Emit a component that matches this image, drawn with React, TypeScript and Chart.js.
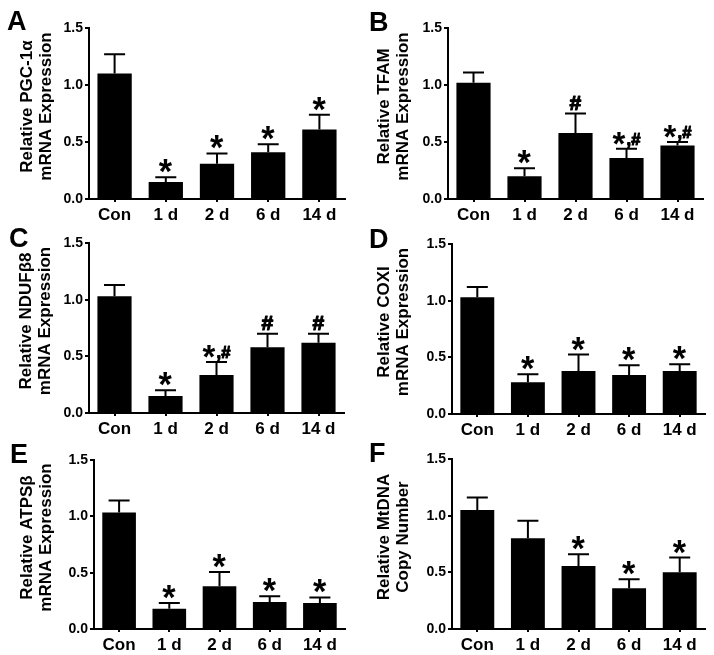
import React, { useEffect, useRef } from "react";
import { Chart, registerables } from "chart.js";

Chart.register(...registerables);

// ---------- data ----------
const categories = ["Con", "1 d", "2 d", "6 d", "14 d"];
const yTickValues = [0, 0.5, 1.0, 1.5];

const pgcMean = [1.1, 0.15, 0.31, 0.41, 0.61];
const pgcErr = [0.17, 0.04, 0.09, 0.07, 0.13];
const pgcMarks = ["", "*", "*", "*", "*"];

const tfamMean = [1.02, 0.2, 0.58, 0.36, 0.47];
const tfamErr = [0.09, 0.07, 0.17, 0.08, 0.03];
const tfamMarks = ["", "*", "#", "*,#", "*,#"];

const ndufMean = [1.03, 0.15, 0.335, 0.58, 0.62];
const ndufErr = [0.1, 0.05, 0.115, 0.12, 0.08];
const ndufMarks = ["", "*", "*,#", "#", "#"];

const coxMean = [1.03, 0.28, 0.38, 0.345, 0.38];
const coxErr = [0.09, 0.07, 0.145, 0.085, 0.06];
const coxMarks = ["", "*", "*", "*", "*"];

const atpMean = [1.035, 0.18, 0.38, 0.24, 0.23];
const atpErr = [0.105, 0.05, 0.125, 0.05, 0.05];
const atpMarks = ["", "*", "*", "*", "*"];

const mtMean = [1.05, 0.8, 0.555, 0.36, 0.5];
const mtErr = [0.11, 0.155, 0.105, 0.08, 0.13];
const mtMarks = ["", "", "*", "*", "*"];

// ---------- layout ----------
const FONT = 'Arial, "Liberation Sans", Helvetica, sans-serif';
const PAGE_W = 714;
const PAGE_H = 655;
const Y_W = 80;
const X_H = 30;

type Panel = {
  letter: string;
  title: string[];
  mean: number[];
  err: number[];
  marks: string[];
  area: [number, number, number, number]; // L, T, R, B
  titleDx: number;
  letterPos: [number, number];
};

const panels: Panel[] = [
  { letter: "A", title: ["Relative PGC-1\u03b1", "mRNA Expression"], mean: pgcMean, err: pgcErr, marks: pgcMarks, area: [89, 28, 345, 199], titleDx: -62, letterPos: [7, 30] },
  { letter: "B", title: ["Relative TFAM", "mRNA Expression"], mean: tfamMean, err: tfamErr, marks: tfamMarks, area: [448, 28, 703, 199], titleDx: -63.5, letterPos: [369, 31] },
  { letter: "C", title: ["Relative NDUF\u03b28", "mRNA Expression"], mean: ndufMean, err: ndufErr, marks: ndufMarks, area: [89, 243, 344, 413], titleDx: -62.5, letterPos: [9, 247] },
  { letter: "D", title: ["Relative COXI", "mRNA Expression"], mean: coxMean, err: coxErr, marks: coxMarks, area: [452, 244, 705, 414], titleDx: -67.5, letterPos: [369, 248] },
  { letter: "E", title: ["Relative ATPS\u03b2", "mRNA Expression"], mean: atpMean, err: atpErr, marks: atpMarks, area: [94, 460, 345, 629], titleDx: -67, letterPos: [10, 463] },
  { letter: "F", title: ["Relative MtDNA", "Copy Number"], mean: mtMean, err: mtErr, marks: mtMarks, area: [452, 459, 705, 629], titleDx: -67.5, letterPos: [369, 462] },
];

function sizeForInkHeight(ctx: CanvasRenderingContext2D, text: string, h: number) {
  ctx.font = `bold 100px ${FONT}`;
  const m = ctx.measureText(text);
  const ink = m.actualBoundingBoxAscent + m.actualBoundingBoxDescent;
  return (100 * h) / ink;
}

function fillBold(ctx: CanvasRenderingContext2D, text: string, x: number, y: number, stroke: number) {
  ctx.fillText(text, x, y);
  if (stroke > 0) {
    ctx.lineWidth = stroke;
    ctx.strokeStyle = "#000";
    ctx.lineJoin = "round";
    ctx.strokeText(text, x, y);
  }
}

function drawMark(ctx: CanvasRenderingContext2D, text: string, cx: number, bottom: number) {
  if (!text) return;
  ctx.fillStyle = "#000";
  ctx.textAlign = "left";
  ctx.textBaseline = "alphabetic";
  if (text === "*" || text === "#") {
    const size = sizeForInkHeight(ctx, text, text === "*" ? 13 : 14.5);
    ctx.font = `bold ${size}px ${FONT}`;
    const m = ctx.measureText(text);
    const inkW = m.actualBoundingBoxLeft + m.actualBoundingBoxRight;
    fillBold(ctx, text, cx - inkW / 2 + m.actualBoundingBoxLeft, bottom - m.actualBoundingBoxDescent, text === "#" ? 1.2 : 0);
    return;
  }
  // combo "*,#"
  const sSize = sizeForInkHeight(ctx, "*", 12.5);
  ctx.font = `bold ${sSize}px ${FONT}`;
  const ms = ctx.measureText("*");
  const starW = ms.actualBoundingBoxLeft + ms.actualBoundingBoxRight;
  const hSize = sizeForInkHeight(ctx, "#", 11.5);
  ctx.font = `bold ${hSize}px ${FONT}`;
  const rest = text.slice(1);
  const mr = ctx.measureText(rest);
  const mh = ctx.measureText("#");
  const total = starW + 1 + mr.width;
  const x0 = cx - total / 2;
  ctx.font = `bold ${sSize}px ${FONT}`;
  ctx.fillText("*", x0 + ms.actualBoundingBoxLeft, bottom - ms.actualBoundingBoxDescent);
  ctx.font = `bold ${hSize}px ${FONT}`;
  fillBold(ctx, rest, x0 + starW + 1, bottom - mh.actualBoundingBoxDescent, 1.1);
}

function makeChart(canvas: HTMLCanvasElement, p: Panel) {
  const [L, T, R, B] = p.area;
  const overlay = {
    id: "overlay" + p.letter,
    afterDatasetsDraw(chart: any) {
      const ctx: CanvasRenderingContext2D = chart.ctx;
      const meta = chart.getDatasetMeta(0);
      const ys = chart.scales.y;
      ctx.save();
      meta.data.forEach((bar: any, i: number) => {
        const x = bar.x;
        const y0 = ys.getPixelForValue(p.mean[i]);
        const y1 = ys.getPixelForValue(p.mean[i] + p.err[i]);
        ctx.strokeStyle = "#000";
        ctx.lineWidth = 2;
        ctx.beginPath();
        ctx.moveTo(x, y0);
        ctx.lineTo(x, y1);
        ctx.moveTo(x - 10.5, y1);
        ctx.lineTo(x + 10.5, y1);
        ctx.stroke();
        drawMark(ctx, p.marks[i], x, y1 - 4);
      });
      ctx.restore();
    },
    afterDraw(chart: any) {
      const ctx: CanvasRenderingContext2D = chart.ctx;
      const ca = chart.chartArea;
      ctx.save();
      ctx.fillStyle = "#000";
      ctx.font = `bold 17px ${FONT}`;
      ctx.textAlign = "center";
      ctx.textBaseline = "middle";
      const cy = (ca.top + ca.bottom) / 2 - 7;
      p.title.forEach((line, k) => {
        ctx.save();
        ctx.translate(ca.left + p.titleDx + k * 19, cy);
        ctx.rotate(-Math.PI / 2);
        ctx.fillText(line, 0, 0);
        ctx.restore();
      });
      ctx.font = `bold 27px ${FONT}`;
      ctx.textAlign = "left";
      ctx.textBaseline = "alphabetic";
      ctx.fillText(p.letter, p.letterPos[0], p.letterPos[1]);
      ctx.restore();
    },
  };

  return new Chart(canvas, {
    type: "bar",
    data: {
      labels: categories,
      datasets: [
        {
          data: p.mean,
          backgroundColor: "#000",
          borderWidth: 0,
          barPercentage: 0.67,
          categoryPercentage: 1,
        },
      ],
    },
    options: {
      responsive: false,
      maintainAspectRatio: false,
      animation: false,
      devicePixelRatio: 1,
      layout: { padding: { left: L - Y_W, top: T, right: PAGE_W - R, bottom: PAGE_H - B - X_H } },
      plugins: { legend: { display: false }, tooltip: { enabled: false } },
      scales: {
        x: {
          grid: { display: true, drawOnChartArea: false, offset: false, tickLength: 3, color: "#000", lineWidth: 2 },
          border: { display: true, color: "#000", width: 2 },
          ticks: { color: "#000", font: { family: FONT, size: 17, weight: "bold" }, padding: 3, maxRotation: 0, autoSkip: false },
          afterFit: (s: any) => {
            s.height = X_H;
          },
        },
        y: {
          min: 0,
          max: 1.5,
          afterBuildTicks: (s: any) => {
            s.ticks = yTickValues.map((v) => ({ value: v }));
          },
          grid: { display: true, drawOnChartArea: false, tickLength: 4, color: "#000", lineWidth: 2 },
          border: { display: true, color: "#000", width: 2 },
          ticks: {
            color: "#000",
            font: { family: FONT, size: 14, weight: "bold" },
            padding: 2,
            callback: (v: any) => Number(v).toFixed(1),
          },
          afterFit: (s: any) => {
            s.width = Y_W;
          },
        },
      },
    } as any,
    plugins: [overlay],
  });
}

export default function App() {
  const refs = useRef<(HTMLCanvasElement | null)[]>([]);
  useEffect(() => {
    const charts = panels.map((p, i) => makeChart(refs.current[i] as HTMLCanvasElement, p));
    return () => charts.forEach((c) => c.destroy());
  }, []);
  return (
    <div style={{ position: "fixed", left: 0, top: 0, width: PAGE_W, height: PAGE_H, background: "#fff" }}>
      {panels.map((p, i) => (
        <canvas
          key={p.letter}
          ref={(el) => {
            refs.current[i] = el;
          }}
          width={PAGE_W}
          height={PAGE_H}
          style={{ position: "absolute", left: 0, top: 0, width: PAGE_W, height: PAGE_H }}
        />
      ))}
    </div>
  );
}
